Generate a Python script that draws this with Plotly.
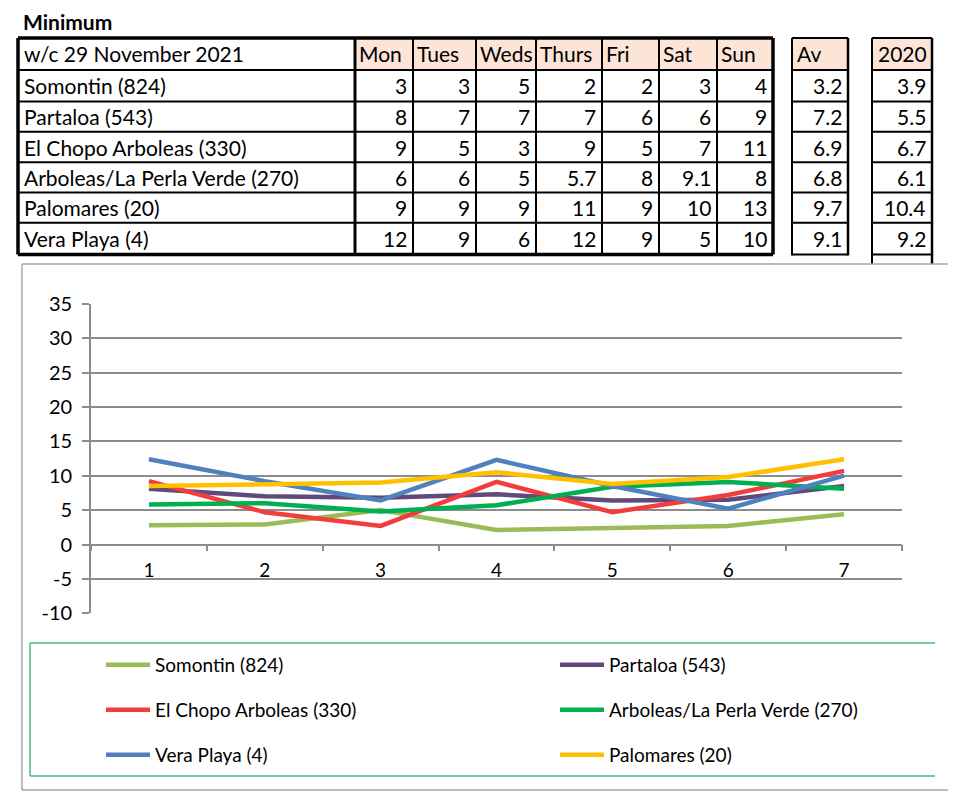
import plotly.graph_objects as go

# ---------------- data ----------------
title_text = "Minimum"
week_label = "w/c 29 November 2021"
days = ["Mon", "Tues", "Weds", "Thurs", "Fri", "Sat", "Sun"]
stations = ["Somontin (824)", "Partaloa (543)", "El Chopo Arboleas (330)",
            "Arboleas/La Perla Verde (270)", "Palomares (20)", "Vera Playa (4)"]

# table values (as displayed)
tbl_somontin = ["3", "3", "5", "2", "2", "3", "4"]
tbl_partaloa = ["8", "7", "7", "7", "6", "6", "9"]
tbl_elchopo = ["9", "5", "3", "9", "5", "7", "11"]
tbl_arboleas = ["6", "6", "5", "5.7", "8", "9.1", "8"]
tbl_palomares = ["9", "9", "9", "11", "9", "10", "13"]
tbl_vera = ["12", "9", "6", "12", "9", "5", "10"]
av_values = ["3.2", "7.2", "6.9", "6.8", "9.7", "9.1"]
y2020_values = ["3.9", "5.5", "6.7", "6.1", "10.4", "9.2"]

# chart values
x_cats = ["1", "2", "3", "4", "5", "6", "7"]
somontin = [2.8, 2.9, 5.0, 2.1, 2.4, 2.7, 4.4]
partaloa = [8.1, 7.0, 6.8, 7.3, 6.4, 6.5, 8.5]
elchopo = [9.2, 4.7, 2.7, 9.1, 4.7, 7.2, 10.7]
arboleas = [5.8, 6.0, 4.8, 5.7, 8.4, 9.1, 8.1]
verapl = [12.4, 9.2, 6.4, 12.3, 8.5, 5.2, 10.0]
palomares = [8.5, 8.8, 9.0, 10.5, 8.8, 9.8, 12.4]

y_range = [-10, 35]
y_ticks = [-10, -5, 0, 5, 10, 15, 20, 25, 30, 35]
y_tick_labels = ["-10", "-5", "0", "5", "10", "15", "20", "25", "30", "35"]

# ---------------- layout helpers ----------------
# the page body has an 8px margin; the figure fills the rest of the window
OFF = 8
W, H = 967 - OFF, 800 - OFF
FONT = "Lato"


def px(x):
    return (x - OFF) / W


def py(y):
    return 1 - (y - OFF) / H


shapes = []
annotations = []


def line(x0, y0, x1, y1, color="black", width=2):
    shapes.append(dict(type="line", xref="paper", yref="paper",
                       x0=px(x0), y0=py(y0), x1=px(x1), y1=py(y1),
                       line=dict(color=color, width=width), layer="above"))


def rect(x0, y0, x1, y1, fill, color="rgba(0,0,0,0)", width=0):
    shapes.append(dict(type="rect", xref="paper", yref="paper",
                       x0=px(x0), y0=py(y0), x1=px(x1), y1=py(y1),
                       fillcolor=fill, line=dict(color=color, width=width),
                       layer="below"))


def text(x, y, s, align="left", size=21, bold=False):
    annotations.append(dict(xref="paper", yref="paper", x=px(x), y=py(y),
                            text=("<b>%s</b>" % s) if bold else s,
                            showarrow=False, xanchor=align, yanchor="middle",
                            font=dict(family=FONT, size=size, color="black")))


# ---------------- table ----------------
col_edges = [18, 355, 413, 476, 536, 602, 659, 717, 773]
row_edges = [38, 70, 101.5, 131.7, 162.3, 192.5, 222.7, 254.5]
av_edges = [792, 848]
y20_edges = [872, 932]
HEAD = "#FCE4D6"

text(21, 21, title_text, size=21, bold=True)

# header fills
for i in range(len(days)):
    rect(col_edges[i + 1], row_edges[0], col_edges[i + 2], row_edges[1], HEAD)
rect(av_edges[0], row_edges[0], av_edges[1], row_edges[1], HEAD)
rect(y20_edges[0], row_edges[0], y20_edges[1], row_edges[1], HEAD)

# main table grid
for y in row_edges[1:-1]:
    line(col_edges[0], y, col_edges[-1], y, width=2)
for x in col_edges[1:-1]:
    line(x, row_edges[0], x, row_edges[-1], width=2)
line(col_edges[0], row_edges[0], col_edges[-1], row_edges[0], width=3.5)
line(col_edges[0], row_edges[-1], col_edges[-1], row_edges[-1], width=3.5)
line(col_edges[0], row_edges[0], col_edges[0], row_edges[-1], width=3.5)
line(col_edges[-1], row_edges[0], col_edges[-1], row_edges[-1], width=3.5)
line(col_edges[1], row_edges[0], col_edges[1], row_edges[-1], width=3)

# Av box
for y in row_edges:
    line(av_edges[0], y, av_edges[1], y, width=2)
line(av_edges[0], row_edges[0], av_edges[0], row_edges[-1] + 1, width=2)
line(av_edges[1], row_edges[0], av_edges[1], row_edges[-1] + 1, width=2.5)

# 2020 box
for y in row_edges:
    line(y20_edges[0], y, y20_edges[1], y, width=2)
line(y20_edges[0], row_edges[0], y20_edges[0], 264, width=2)
line(y20_edges[1], row_edges[0], y20_edges[1], 264, width=2.5)

# header texts
hy = (row_edges[0] + row_edges[1]) / 2
text(col_edges[0] + 4, hy, week_label)
for i, d in enumerate(days):
    text(col_edges[i + 1] + 2, hy, d)
text(av_edges[0] + 3, hy, "Av")
text(y20_edges[1] - 3, hy, "2020", align="right")

tbl_rows = [tbl_somontin, tbl_partaloa, tbl_elchopo, tbl_arboleas, tbl_palomares, tbl_vera]
for r, name in enumerate(stations):
    cy = (row_edges[r + 1] + row_edges[r + 2]) / 2
    text(col_edges[0] + 4, cy, name)
    for i, v in enumerate(tbl_rows[r]):
        text(col_edges[i + 2] - 4, cy, v, align="right")
    text(av_edges[1] - 4, cy, av_values[r], align="right")
    text(y20_edges[1] - 4, cy, y2020_values[r], align="right")

# chart frame and legend frame
GRAY = "#A6A6A6"
line(22, 264, 948, 264, color=GRAY, width=1.5)
line(22, 264, 22, 790, color=GRAY, width=1.5)
line(22, 790, 948, 790, color=GRAY, width=1.5)
LG = "#4DB87A"
line(30, 643, 935, 643, color=LG, width=1.5)
line(30, 643, 30, 776, color=LG, width=1.5)
line(30, 776, 935, 776, color=LG, width=1.5)

# ---------------- chart ----------------
plot_left, plot_right = 91, 902
plot_top, plot_bottom = 303.7, 613.3
ydom = [py(plot_bottom), py(plot_top)]
zero_pos = ydom[0] + (0 - y_range[0]) / (y_range[1] - y_range[0]) * (ydom[1] - ydom[0])

series = [
    ("Somontin (824)", somontin, "#9BBB59", "legend"),
    ("Partaloa (543)", partaloa, "#604A7B", "legend"),
    ("El Chopo Arboleas (330)", elchopo, "#F23D3D", "legend2"),
    ("Arboleas/La Perla Verde (270)", arboleas, "#00B050", "legend2"),
    ("Vera Playa (4)", verapl, "#4F81BD", "legend3"),
    ("Palomares (20)", palomares, "#FFC000", "legend3"),
]

fig = go.Figure()
for name, vals, col, lg in series:
    fig.add_trace(go.Scatter(x=x_cats, y=vals, name=name, mode="lines",
                             line=dict(color=col, width=4.5), legend=lg))

legend_common = dict(orientation="h", xanchor="left", yanchor="middle",
                     xref="container", yref="container",
                     entrywidth=395, entrywidthmode="pixels", itemwidth=44,
                     font=dict(family=FONT, size=19, color="black"),
                     bgcolor="rgba(0,0,0,0)", borderwidth=0)

fig.update_layout(
    width=W, height=H,
    margin=dict(l=0, r=0, t=0, b=0, autoexpand=False),
    paper_bgcolor="white", plot_bgcolor="white",
    showlegend=True,
    shapes=shapes, annotations=annotations,
    font=dict(family=FONT, size=18, color="black"),
    xaxis=dict(type="category", categoryorder="array", categoryarray=x_cats,
               range=[-0.5, 6.5], domain=[px(plot_left), px(plot_right)],
               anchor="free", position=zero_pos,
               showline=True, linecolor="#8C8C8C", linewidth=1.8,
               ticks="outside", tickson="boundaries", ticklen=6,
               tickcolor="#8C8C8C", tickwidth=1.5,
               showgrid=False, zeroline=False, ticklabelstandoff=9,
               tickfont=dict(family=FONT, size=19, color="black"),
               automargin=False, fixedrange=True),
    yaxis=dict(range=y_range, domain=ydom, tickvals=y_ticks,
               ticktext=y_tick_labels,
               showline=True, linecolor="#8C8C8C", linewidth=1.8,
               ticks="outside", ticklen=7, tickcolor="#8C8C8C", tickwidth=1.5,
               showgrid=True, gridcolor="#8C8C8C", gridwidth=1.8,
               zeroline=False, automargin=False, ticklabelstandoff=6,
               tickfont=dict(family=FONT, size=20, color="black"),
               fixedrange=True),
    legend=dict(x=px(101), y=py(665), **legend_common),
    legend2=dict(x=px(101), y=py(710), **legend_common),
    legend3=dict(x=px(101), y=py(755), **legend_common),
)

fig.write_html("out.html")
